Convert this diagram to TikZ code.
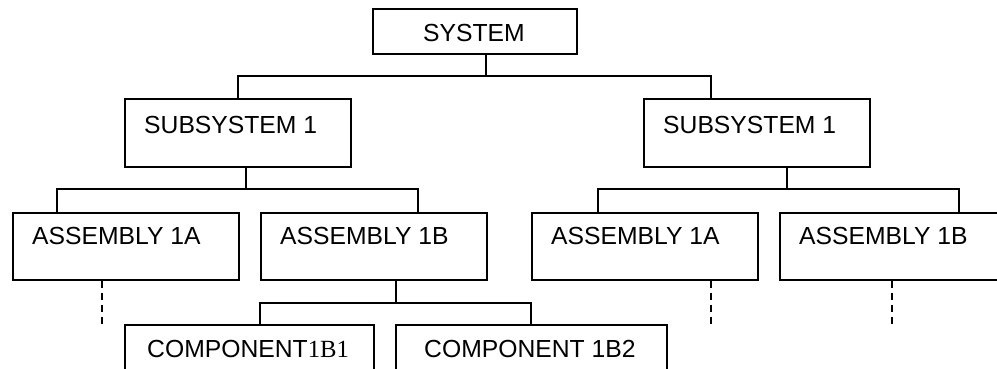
\documentclass[tikz,border=0pt]{standalone}
\usepackage{fontspec}
\setmainfont{Liberation Sans}
\newfontfamily\serifpart{Liberation Serif}
\begin{document}
\begin{tikzpicture}[x=1pt,y=-1pt,
  box/.style={draw, line width=1.6pt, rectangle, inner sep=0pt, anchor=north west, minimum height=67pt},
  lbl/.style={inner sep=0pt, anchor=base west, font=\fontsize{24.7}{28}\selectfont},
  conn/.style={line width=1.6pt},
  dconn/.style={line width=1.6pt, dash pattern=on 7pt off 5pt}]
\useasboundingbox (0,0) rectangle (997,368);
\clip (0,0) rectangle (997,368);
% boxes
\node[box, minimum width=204pt, minimum height=45pt] (sys) at (372,8) {};
\node[lbl, anchor=base] (systxt) at (474,41) {SYSTEM};
\node[box, minimum width=226pt, minimum height=68pt] (subL) at (124,98) {};
\node[lbl] (subLtxt) at (144,133) {SUBSYSTEM 1};
\node[box, minimum width=226pt, minimum height=68pt] (subR) at (643,98) {};
\node[lbl] (subRtxt) at (663,133) {SUBSYSTEM 1};
\node[box, minimum width=226pt] (aAL) at (12,212) {};
\node[lbl] (aALtxt) at (32,244) {ASSEMBLY 1A};
\node[box, minimum width=226pt] (aBL) at (260,212) {};
\node[lbl] (aBLtxt) at (280,244) {ASSEMBLY 1B};
\node[box, minimum width=226pt] (aAR) at (531,212) {};
\node[lbl] (aARtxt) at (551,244) {ASSEMBLY 1A};
\node[box, minimum width=240pt] (aBR) at (779,212) {};
\node[lbl] (aBRtxt) at (799,244) {ASSEMBLY 1B};
\node[box, minimum width=249pt] (c1) at (124,324) {};
\node[lbl] (c1txt) at (147,357) {COMPONENT{\serifpart 1B1}};
\node[box, minimum width=271pt] (c2) at (395,324) {};
\node[lbl] (c2txt) at (424,357) {COMPONENT 1B2};
% junction coordinates
\coordinate (j0) at (486,76);
\coordinate (p0L) at (238,98);
\coordinate (p0R) at (711,98);
\coordinate (j1) at (246,189);
\coordinate (p1a) at (57,212);
\coordinate (p1b) at (418,212);
\coordinate (j2) at (787,189);
\coordinate (p2a) at (598,212);
\coordinate (p2b) at (959,212);
\coordinate (j3) at (396,303);
\coordinate (p3a) at (260,324);
\coordinate (p3b) at (531,324);
\coordinate (dL) at (102,324);
\coordinate (dM) at (711,324);
\coordinate (dR) at (892,324);
% connectors
\draw[conn] (sys.south -| j0) -- (j0);
\draw[conn] (p0L) |- (j0) -| (p0R);
\draw[conn] (subL.south -| j1) -- (j1);
\draw[conn] (p1a) |- (j1) -| (p1b);
\draw[conn] (subR.south -| j2) -- (j2);
\draw[conn] (p2a) |- (j2) -| (p2b);
\draw[conn] (aBL.south -| j3) -- (j3);
\draw[conn] (p3a) |- (j3) -| (p3b);
\draw[dconn] (aAL.south -| dL) -- (dL);
\draw[dconn] (aAR.south -| dM) -- (dM);
\draw[dconn] (aBR.south -| dR) -- (dR);
\end{tikzpicture}
\end{document}
